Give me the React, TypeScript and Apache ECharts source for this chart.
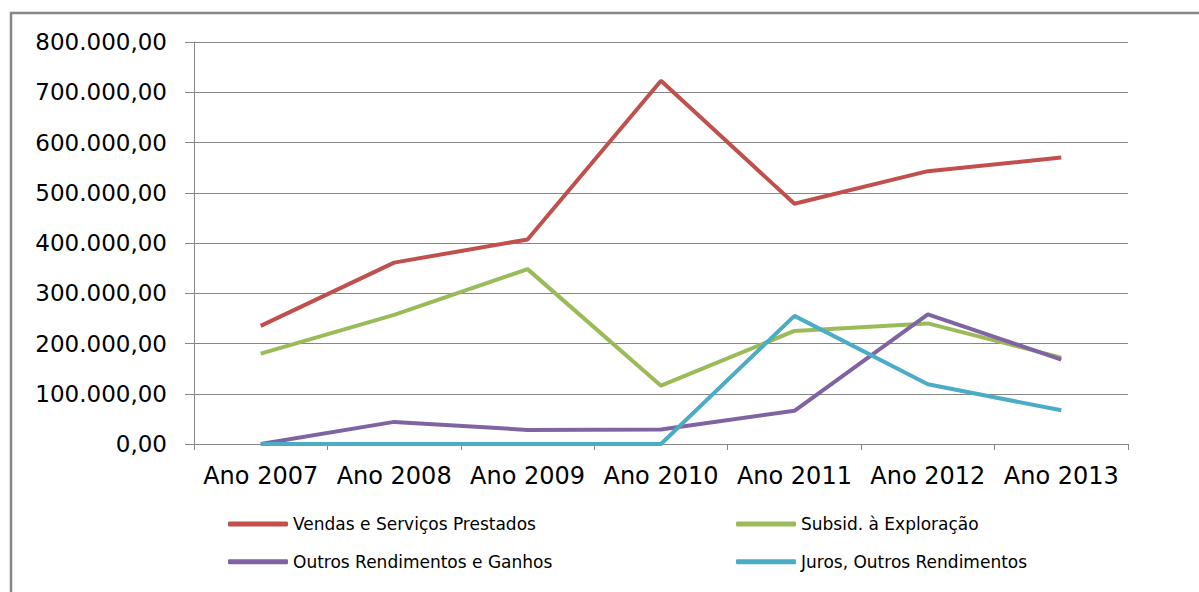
import React, { useEffect, useRef } from "react";
import * as echarts from "echarts";

const categories = ["Ano 2007", "Ano 2008", "Ano 2009", "Ano 2010", "Ano 2011", "Ano 2012", "Ano 2013"];
const vendas = [235000, 361000, 407000, 723000, 478000, 543000, 570000];
const subsid = [180000, 257000, 348000, 116000, 225000, 240000, 172000];
const outros = [0, 44000, 28000, 29000, 66000, 258000, 168000];
const juros = [0, 0, 0, 0, 255000, 119000, 67000];
const seriesNames = [
  "Vendas e Serviços Prestados",
  "Subsid. à Exploração",
  "Outros Rendimentos e Ganhos",
  "Juros, Outros Rendimentos",
];
const colors = ["#C0504D", "#9BBB59", "#8064A2", "#4BACC6"];

function fmt(v: number): string {
  const s = Math.round(v).toString().replace(/\B(?=(\d{3})+(?!\d))/g, ".");
  return s + ",00";
}

export default function App() {
  const ref = useRef<HTMLDivElement>(null);
  useEffect(() => {
    if (!ref.current) return;
    const chart = echarts.init(ref.current, null, { renderer: "svg" });
    const data = [vendas, subsid, outros, juros];
    const legendText = { fontFamily: "DejaVu Sans", fontSize: 17, color: "#000", lineHeight: 20 };
    chart.setOption({
      animation: false,
      backgroundColor: "#fff",
      grid: { left: 194, right: 71, top: 42, bottom: 148 },
      graphic: [
        {
          type: "rect",
          shape: { x: 11, y: 13, width: 1400, height: 800 },
          style: { fill: "none", stroke: "#868686", lineWidth: 2.5 },
          z: 10,
        },
      ],
      legend: [
        {
          left: 228,
          top: 514,
          orient: "vertical",
          padding: 0,
          itemWidth: 60,
          itemHeight: 5,
          itemGap: 17.7,
          icon: "roundRect",
          textStyle: legendText,
          data: [seriesNames[0], seriesNames[2]],
        },
        {
          left: 736,
          top: 514,
          orient: "vertical",
          padding: 0,
          itemWidth: 60,
          itemHeight: 5,
          itemGap: 17.7,
          icon: "roundRect",
          textStyle: legendText,
          data: [seriesNames[1], seriesNames[3]],
        },
      ],
      xAxis: {
        type: "category",
        data: categories,
        boundaryGap: true,
        axisLine: { lineStyle: { color: "#868686", width: 1 } },
        axisTick: { show: true, length: 6, lineStyle: { color: "#868686" } },
        axisLabel: {
          color: "#000",
          fontFamily: "DejaVu Sans",
          fontSize: 24,
          margin: 20,
          interval: 0,
          hideOverlap: false,
        },
      },
      yAxis: {
        type: "value",
        min: 0,
        max: 800000,
        interval: 100000,
        axisLine: { show: true, lineStyle: { color: "#868686", width: 1 } },
        axisTick: { show: true, length: 9, lineStyle: { color: "#868686" } },
        splitLine: { lineStyle: { color: "#868686", width: 1 } },
        axisLabel: {
          color: "#000",
          fontFamily: "DejaVu Sans",
          fontSize: 23,
          margin: 27,
          formatter: (v: number) => fmt(v),
        },
      },
      series: seriesNames.map((name, i) => ({
        name,
        type: "line",
        data: data[i],
        showSymbol: false,
        symbol: "none",
        lineStyle: { width: 4, color: colors[i] },
        itemStyle: { color: colors[i] },
      })),
    });
    return () => chart.dispose();
  }, []);
  return (
    <div
      ref={ref}
      style={{ position: "fixed", left: 0, top: 0, width: 1199, height: 592, background: "#fff" }}
    />
  );
}
